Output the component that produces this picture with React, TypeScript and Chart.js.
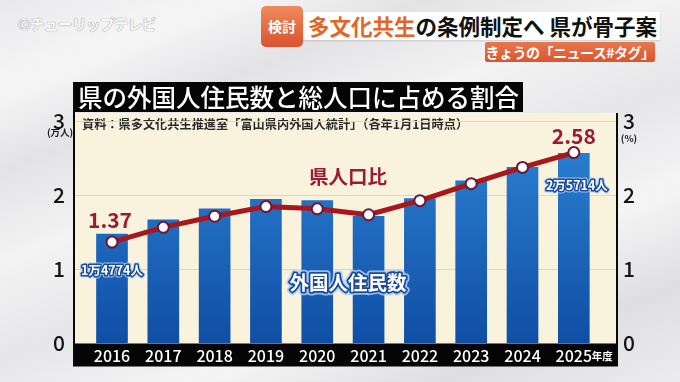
import React, { useEffect, useRef } from "react";
import { Chart, registerables } from "chart.js";

Chart.register(...registerables);

const years = ["2016", "2017", "2018", "2019", "2020", "2021", "2022", "2023", "2024", "2025"];
// 外国人住民数 (万人)
const foreignResidents = [1.4774, 1.67, 1.82, 1.95, 1.93, 1.72, 1.96, 2.2, 2.38, 2.5714];
// 県人口比 (%)
const populationRatio = [1.37, 1.57, 1.72, 1.85, 1.82, 1.74, 1.93, 2.16, 2.38, 2.58];
const yTicks = [0, 1, 2, 3];

const chartTitle = "県の外国人住民数と総人口に占める割合";
const sourceNote = "資料：県多文化共生推進室「富山県内外国人統計」（各年1月1日時点）";
const firstResidentsLabel = "1万4774人";
const lastResidentsLabel = "2万5714人";
const ratioSeriesName = "県人口比";
const residentsSeriesName = "外国人住民数";

const FONT = '"Noto Sans CJK JP", "Noto Sans", sans-serif';
const RED = "#9c1a33";

function outlinedText(ctx: CanvasRenderingContext2D, text: string, x: number, y: number, font: string, glow: number, stroke: number) {
  ctx.save();
  ctx.font = font;
  ctx.textAlign = "center";
  ctx.textBaseline = "middle";
  ctx.lineJoin = "round";
  ctx.strokeStyle = "rgba(175,205,245,0.85)";
  ctx.lineWidth = glow;
  ctx.strokeText(text, x, y);
  ctx.strokeStyle = "#184a98";
  ctx.lineWidth = stroke;
  ctx.strokeText(text, x, y);
  ctx.fillStyle = "#ffffff";
  ctx.fillText(text, x, y);
  ctx.restore();
}

const decorPlugin = {
  id: "decor",
  beforeDraw(chart: any) {
    const { ctx, chartArea } = chart;
    const { left, right, top, bottom } = chartArea;
    ctx.save();
    // cream plot background
    ctx.fillStyle = "#f9f2dd";
    ctx.fillRect(left, top, right - left, bottom - top);
    // title bar
    ctx.fillStyle = "#050505";
    ctx.fillRect(left - 2, 82, 450, 30);
    ctx.fillStyle = "#ffffff";
    ctx.font = `500 24.5px ${FONT}`;
    ctx.textBaseline = "middle";
    ctx.textAlign = "left";
    ctx.fillText(chartTitle, left + 3, 97.5);
    // source note
    ctx.fillStyle = "#2a2a2a";
    ctx.font = `bold 12.2px ${FONT}`;
    ctx.fillText(sourceNote, left + 7, 124.5);
    ctx.restore();
  },
  afterDraw(chart: any) {
    const { ctx, chartArea, scales } = chart;
    const { left, right, top } = chartArea;
    const xs = scales.x;
    const bandBottom = xs.bottom;
    ctx.save();
    // axis lines
    ctx.fillStyle = "#0a0a0a";
    ctx.fillRect(left - 2, 82, 2, bandBottom - 82);
    ctx.fillRect(right, top, 2, bandBottom - top);
    // 年度 suffix
    ctx.fillStyle = "#ffffff";
    ctx.font = `bold 10.5px ${FONT}`;
    ctx.textAlign = "left";
    ctx.textBaseline = "middle";
    ctx.fillText("年度", xs.getPixelForValue(years.length - 1) + 18, (xs.top + xs.bottom) / 2 + 1);
    // units
    ctx.fillStyle = "#1a1a1a";
    ctx.font = `bold 9.5px ${FONT}`;
    ctx.textAlign = "center";
    ctx.fillText("(万人)", left - 15, 132);
    ctx.fillText("(%)", right + 13, 138);
    ctx.restore();
  },
  afterDatasetsDraw(chart: any) {
    const { ctx, scales } = chart;
    const xs = scales.x;
    const yl = scales.y;
    const yr = scales.y1;
    const last = years.length - 1;
    ctx.save();
    ctx.fillStyle = RED;
    ctx.textAlign = "center";
    ctx.textBaseline = "middle";
    ctx.font = `bold 21px ${FONT}`;
    ctx.fillText(populationRatio[0].toFixed(2), xs.getPixelForValue(0) - 2, yr.getPixelForValue(populationRatio[0]) - 22);
    ctx.fillText(populationRatio[last].toFixed(2), xs.getPixelForValue(last), yr.getPixelForValue(populationRatio[last]) - 17);
    ctx.font = `bold 19.5px ${FONT}`;
    ctx.fillText(ratioSeriesName, xs.getPixelForValue(4.6), yr.getPixelForValue(2.26));
    ctx.restore();
    outlinedText(ctx, residentsSeriesName, xs.getPixelForValue(4.6), yl.getPixelForValue(0.82), `bold 19.5px ${FONT}`, 7, 3.5);
    outlinedText(ctx, firstResidentsLabel, xs.getPixelForValue(0), yl.getPixelForValue(foreignResidents[0]) + 36, `bold 12.5px ${FONT}`, 5, 3);
    outlinedText(ctx, lastResidentsLabel, xs.getPixelForValue(last) + 3, yl.getPixelForValue(foreignResidents[last]) + 32, `bold 12.5px ${FONT}`, 5, 3);
  },
};

export default function App() {
  const canvasRef = useRef<HTMLCanvasElement | null>(null);

  useEffect(() => {
    document.body.style.margin = "0";
    const canvas = canvasRef.current;
    if (!canvas) return;
    const chart = new Chart(canvas, {
      type: "bar",
      data: {
        datasets: [
          {
            type: "line",
            label: ratioSeriesName,
            data: populationRatio.map((v, i) => ({ x: i, y: v })),
            yAxisID: "y1",
            xAxisID: "x",
            borderColor: "#a8171c",
            borderWidth: 5,
            pointRadius: 5.5,
            pointBackgroundColor: "#ffffff",
            pointBorderColor: "#6e1838",
            pointBorderWidth: 2,
            tension: 0,
            order: 0,
          } as any,
          {
            type: "bar",
            label: residentsSeriesName,
            data: foreignResidents.map((v, i) => ({ x: i, y: v })),
            yAxisID: "y",
            xAxisID: "x",
            barThickness: 31,
            borderWidth: 0,
            backgroundColor: (c: any) => {
              const area = c.chart.chartArea;
              if (!area) return "#1f6cc0";
              const g = c.chart.ctx.createLinearGradient(0, area.top, 0, area.bottom);
              g.addColorStop(0, "#2f86d8");
              g.addColorStop(1, "#0f4ea5");
              return g;
            },
            order: 1,
          } as any,
        ],
      },
      options: {
        animation: false,
        responsive: false,
        devicePixelRatio: 1,
        layout: { padding: { top: 113, bottom: 15.5, left: 0, right: 0 } },
        plugins: { legend: { display: false }, tooltip: { enabled: false }, title: { display: false } },
        scales: {
          x: {
            type: "linear",
            position: "bottom",
            offset: false,
            min: -0.721,
            max: 9.822,
            backgroundColor: "#050505",
            grid: { display: false, drawTicks: false, offset: false },
            border: { display: false },
            afterFit: (s: any) => {
              s.height = 23;
            },
            ticks: {
              stepSize: 1,
              autoSkip: false,
              includeBounds: false,
              maxRotation: 0,
              padding: 3,
              color: "#ffffff",
              font: { family: FONT, size: 16, weight: "500" },
              callback: (v: any) => (Number.isInteger(v) && years[v] ? years[v] : ""),
            },
          },
          y: {
            type: "linear",
            position: "left",
            min: 0,
            max: 3.115,
            afterFit: (s: any) => {
              s.width = 75;
            },
            afterBuildTicks: (s: any) => {
              s.ticks = yTicks.map((v) => ({ value: v }));
            },
            grid: {
              drawTicks: false,
              color: (c: any) => (c.tick && c.tick.value === 0 ? "rgba(0,0,0,0)" : "#e2d7b6"),
              lineWidth: 1,
            },
            border: { display: false },
            ticks: {
              padding: 10,
              color: "#151515",
              font: { family: FONT, size: 21, weight: "500" },
            },
          },
          y1: {
            type: "linear",
            position: "right",
            min: 0,
            max: 3.115,
            afterFit: (s: any) => {
              s.width = 64;
            },
            afterBuildTicks: (s: any) => {
              s.ticks = yTicks.map((v) => ({ value: v }));
            },
            grid: { display: false, drawTicks: false },
            border: { display: false },
            ticks: {
              padding: 7,
              color: "#151515",
              font: { family: FONT, size: 21, weight: "500" },
            },
          },
        },
      } as any,
      plugins: [decorPlugin],
    });
    return () => chart.destroy();
  }, []);

  return (
    <div
      style={{
        position: "fixed",
        left: 0,
        top: 0,
        width: 680,
        height: 382,
        overflow: "hidden",
        background:
          "linear-gradient(158deg, #e9e9eb 0%, #f6f6f7 14%, #e3e3e5 26%, #f3f3f4 40%, #e6e6e8 55%, #f5f5f6 70%, #dfdfe1 85%, #ececee 100%)",
        fontFamily: FONT,
      }}
    >
      <div
        style={{
          position: "absolute",
          left: 18,
          top: 13,
          fontSize: 15,
          fontWeight: 700,
          color: "#f7f7f7",
          textShadow: "0 0 1px #9a9a9a, 0 0 1px #9a9a9a",
          letterSpacing: -1,
          whiteSpace: "nowrap",
        }}
      >
        ©チューリップテレビ
      </div>
      <div
        style={{
          position: "absolute",
          left: 485,
          top: 42,
          width: 170,
          height: 20,
          background: "linear-gradient(#e8774e, #d9552f)",
          borderRadius: 2,
          color: "#fff",
          fontSize: 14,
          fontWeight: 700,
          lineHeight: "20px",
          textAlign: "center",
          whiteSpace: "nowrap",
          letterSpacing: -0.5,
        }}
      >
        きょうの「ニュース#タグ」
      </div>
      <div
        style={{
          position: "absolute",
          left: 300,
          top: 12,
          width: 360,
          height: 28,
          background: "#ffffff",
          boxShadow: "0 1px 2px rgba(0,0,0,0.15)",
        }}
      />
      <div
        style={{
          position: "absolute",
          left: 308,
          top: 12,
          height: 28,
          lineHeight: "28px",
          fontSize: 21.5,
          fontWeight: 700,
          color: "#111",
          whiteSpace: "nowrap",
        }}
      >
        <span style={{ color: "#e2662a" }}>多文化共生</span>の条例制定へ 県が骨子案
      </div>
      <div
        style={{
          position: "absolute",
          left: 261,
          top: 6,
          width: 42,
          height: 41,
          borderRadius: 5,
          background: "linear-gradient(#f08a5c, #d9532e)",
          color: "#fff",
          fontSize: 14,
          fontWeight: 700,
          lineHeight: "41px",
          textAlign: "center",
          whiteSpace: "nowrap",
        }}
      >
        検討
      </div>
      <canvas
        ref={canvasRef}
        width={680}
        height={382}
        style={{ position: "absolute", left: 0, top: 0, width: 680, height: 382 }}
      />
    </div>
  );
}
